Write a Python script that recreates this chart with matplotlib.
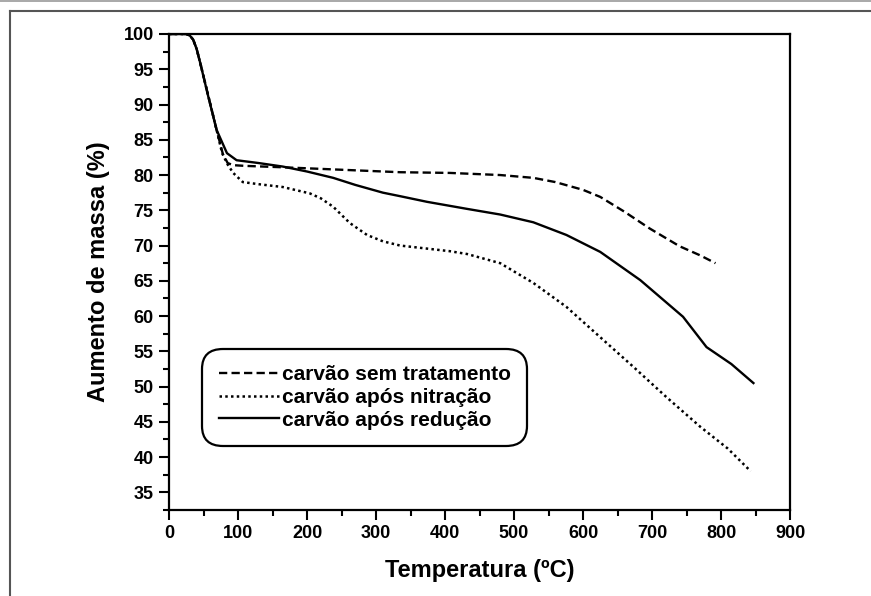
import numpy as np
import matplotlib
matplotlib.use("Agg")
import matplotlib.pyplot as plt
from matplotlib.lines import Line2D

plt.rcParams['font.family'] = ['Liberation Sans', 'DejaVu Sans']
plt.rcParams['font.weight'] = 'bold'

# carvao sem tratamento (dashed)
t_sem = [0, 25, 30, 35, 40, 45, 57, 69, 78, 85, 93, 110, 165, 262, 335, 407, 480, 528, 560, 600, 625, 660, 697, 740, 770, 792]
m_sem = [100, 100, 99.8, 99.2, 97.9, 96.0, 91.2, 86.4, 83.0, 81.7, 81.4, 81.3, 81.1, 80.7, 80.4, 80.3, 80.0, 79.6, 79.0, 77.9, 76.9, 74.8, 72.4, 69.9, 68.6, 67.5]

# carvao apos nitracao (dotted)
t_nit = [0, 25, 30, 35, 40, 45, 57, 69, 77, 85, 93, 107, 130, 165, 204, 220, 238, 262, 287, 310, 335, 407, 432, 480, 528, 576, 625, 673, 721, 770, 810, 843]
m_nit = [100, 100, 99.8, 99.2, 97.9, 96.0, 91.2, 86.4, 83.1, 81.5, 80.3, 79.0, 78.7, 78.3, 77.4, 76.7, 75.5, 73.2, 71.5, 70.6, 70.0, 69.2, 68.8, 67.5, 64.7, 61.3, 57.0, 52.8, 48.5, 44.3, 41.2, 38.0]

# carvao apos reducao (solid)
t_red = [0, 25, 30, 35, 40, 45, 57, 69, 84, 98, 130, 165, 200, 238, 270, 310, 335, 374, 432, 480, 528, 576, 625, 683, 745, 779, 815, 847]
m_red = [100, 100, 99.8, 99.2, 97.9, 96.0, 91.1, 86.4, 83.1, 82.1, 81.7, 81.2, 80.5, 79.6, 78.6, 77.5, 77.0, 76.2, 75.2, 74.4, 73.3, 71.5, 69.1, 65.1, 59.9, 55.6, 53.2, 50.5]

labels = ['carvão sem tratamento', 'carvão após nitração', 'carvão após redução']

fig = plt.figure(figsize=(8.71, 5.96), dpi=100)
ax = fig.add_axes([169/871, 1-510/596, 621/871, 476/596])

ax.plot(t_sem, m_sem, color='black', lw=1.7, dashes=(3.5, 1.8), label=labels[0])
ax.plot(t_nit, m_nit, color='black', lw=1.8, dashes=(1.0, 1.3), label=labels[1])
ax.plot(t_red, m_red, color='black', lw=1.7, label=labels[2])

ax.set_xlim(0, 900)
ax.set_ylim(32.5, 100)
ax.set_xticks(np.arange(0, 901, 100))
ax.set_xticks(np.arange(50, 901, 100), minor=True)
ax.set_yticks(np.arange(35, 101, 5))
ax.set_yticks(np.arange(32.5, 100, 5), minor=True)
ax.tick_params(which='major', direction='out', length=7, width=1.5, labelsize=13, pad=4)
ax.tick_params(which='minor', direction='out', length=4, width=1.5)
ax.tick_params(top=False, right=False)
for lab in ax.get_xticklabels() + ax.get_yticklabels():
    lab.set_fontweight('bold')
for s in ax.spines.values():
    s.set_linewidth(1.6)

ax.set_xlabel('Temperatura (ºC)', fontsize=17, fontweight='bold', labelpad=12)
ax.set_ylabel('Aumento de massa (%)', fontsize=17, fontweight='bold', labelpad=10)

leg = ax.legend(loc='lower left', bbox_to_anchor=(0.047, 0.125), fontsize=15,
                handlelength=2.9, handletextpad=0.1, labelspacing=0.18,
                borderpad=0.5, fancybox=True, framealpha=1, edgecolor='black')
leg.get_frame().set_linewidth(1.6)
leg.get_frame().set_boxstyle('round,pad=0.3,rounding_size=1.0')
for t in leg.get_texts():
    t.set_fontweight('bold')

# outer frame of the original picture
fig.add_artist(Line2D([0, 1], [1-0.6/596, 1-0.6/596], transform=fig.transFigure, color='#999999', lw=1.2))
fig.add_artist(Line2D([10/871, 1], [1-11/596, 1-11/596], transform=fig.transFigure, color='#555555', lw=1.5))
fig.add_artist(Line2D([10/871, 10/871], [1-11/596, 0], transform=fig.transFigure, color='#555555', lw=1.5))

fig.savefig('out.png', dpi=100)
